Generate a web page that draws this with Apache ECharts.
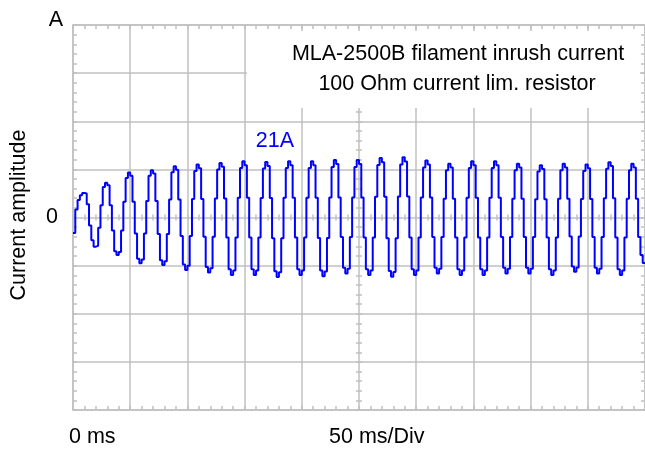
<!DOCTYPE html>
<html>
<head>
<meta charset="utf-8">
<title>MLA-2500B filament inrush current</title>
<script src="https://cdn.jsdelivr.net/npm/echarts@6/dist/echarts.min.js"></script>
<style>
  html, body { margin: 0; padding: 0; background: #fff; }
  #myChart { width: 645px; height: 450px; }
</style>
</head>
<body>
<div id="myChart"></div>
<script>
// scope settings: 10 div x 50 ms, 8 div x 18 A
var timeMin = 0;
var timeMax = 500;
var timeStep = 50;
var ampMin = -72;
var ampMax = 72;
var ampStep = 18;
var sampleMs = 2;

// sampled current (A), one row per 20 ms mains cycle (10 samples)
var currentA = [
  -5.8, 3.0, 6.5, 8.3, 9.2, 9.0, 5.0, -3.0, -8.5, -10.9,
  -10.6, -3.8, 4.6, 11.4, 13.0, 12.1, 4.6, -4.9, -12.6, -14.0,
  -12.9, -4.9, 5.9, 14.8, 16.8, 15.6, 5.9, -6.0, -15.4, -17.1,
  -15.7, -6.0, 6.2, 15.6, 17.7, 16.5, 6.2, -6.2, -16.0, -17.8,
  -16.4, -6.2, 6.7, 16.9, 19.2, 17.9, 6.7, -6.9, -17.6, -19.6,
  -18.0, -6.9, 6.9, 17.4, 19.8, 18.4, 6.9, -7.2, -18.5, -20.6,
  -19.0, -7.2, 7.1, 18.0, 20.4, 19.0, 7.1, -7.5, -19.4, -21.5,
  -19.8, -7.5, 7.4, 18.5, 21.0, 19.5, 7.4, -7.5, -19.4, -21.5,
  -19.8, -7.5, 7.3, 18.3, 20.8, 19.3, 7.3, -7.8, -20.1, -22.3,
  -20.5, -7.8, 7.4, 18.5, 21.0, 19.5, 7.4, -7.5, -19.4, -21.5,
  -19.8, -7.5, 7.4, 18.5, 21.0, 19.5, 7.4, -7.7, -19.8, -22.0,
  -20.2, -7.7, 7.5, 18.9, 21.5, 20.0, 7.5, -7.3, -18.8, -20.9,
  -19.2, -7.3, 7.5, 18.9, 21.5, 20.0, 7.5, -7.5, -19.4, -21.5,
  -19.8, -7.5, 7.8, 19.6, 22.3, 20.7, 7.8, -7.8, -20.0, -22.2,
  -20.4, -7.8, 7.9, 19.8, 22.5, 20.9, 7.9, -7.5, -19.4, -21.5,
  -19.8, -7.5, 7.5, 18.7, 21.3, 19.8, 7.5, -7.3, -18.8, -20.9,
  -19.2, -7.3, 7.0, 17.7, 20.1, 18.7, 7.0, -7.5, -19.4, -21.5,
  -19.8, -7.5, 7.4, 18.5, 21.0, 19.5, 7.4, -7.5, -19.4, -21.5,
  -19.8, -7.5, 7.4, 18.5, 21.0, 19.5, 7.4, -7.3, -18.8, -20.9,
  -19.2, -7.3, 7.0, 17.7, 20.1, 18.7, 7.0, -7.3, -18.8, -20.9,
  -19.2, -7.3, 6.8, 17.2, 19.5, 18.1, 6.8, -7.5, -19.4, -21.5,
  -19.8, -7.5, 7.0, 17.7, 20.1, 18.7, 7.0, -7.1, -18.3, -20.3,
  -18.7, -7.1, 6.9, 17.4, 19.8, 18.4, 6.9, -7.3, -18.8, -20.9,
  -19.2, -7.3, 7.2, 18.2, 20.7, 19.3, 7.2, -7.5, -19.4, -21.5,
  -19.8, -7.5, 7.0, 17.7, 20.1, 18.7, 7.0, -7.3, -14.0, -17.0,
  -17.0
];

// texts
var titleLines = ["MLA-2500B filament inrush current", "100 Ohm current lim. resistor"];
var timeLabels = ["0 ms", "50 ms/Div"];
var ampUnit = "A";
var ampName = "Current amplitude";
var peakNote = "21A";

var gridColor = "#c0c0c0";
var fontFamily = "'Liberation Sans', Arial, sans-serif";
var font = "21.5px " + fontFamily;

// one axis of the scope frame; center axes are pushed inward with a negative offset
function frameAxis(dim, position, offset, inside, tickLen, isMain) {
  var axis = {
    type: "value",
    position: position,
    offset: offset,
    min: dim == "x" ? timeMin : ampMin,
    max: dim == "x" ? timeMax : ampMax,
    interval: dim == "x" ? timeStep : ampStep,
    axisLine: { show: offset == 0, onZero: false, lineStyle: { color: gridColor, width: 1.5 } },
    axisTick: { show: true, inside: inside, length: tickLen, lineStyle: { color: gridColor, width: 1.5 } },
    minorTick: { show: true, splitNumber: 5, length: tickLen, lineStyle: { color: gridColor, width: 1.5 } },
    axisLabel: { show: false },
    splitLine: { show: isMain, lineStyle: { color: gridColor, width: 1.5 } }
  };
  return axis;
}

var yMain = frameAxis("y", "left", 0, true, 4, true);
yMain.axisLabel = {
  show: true,
  margin: 15,
  color: "#000",
  fontSize: 21.5,
  fontFamily: fontFamily,
  formatter: function(v) {
    return v == 0 ? "0" : "";
  }
};

// plain text helper for the graphic layer
function label(text, x, y, align, color) {
  return {
    type: "text",
    z: 51,
    style: {
      text: text, x: x, y: y, font: font, fill: color || "#000",
      align: align, verticalAlign: "middle", textAlign: align, textVerticalAlign: "middle"
    }
  };
}

var nameLabel = label(ampName, 0, 0, "center");
nameLabel.x = 19;
nameLabel.y = 215;
nameLabel.rotation = Math.PI / 2;

var myChart = echarts.init(document.getElementById("myChart"));
myChart.setOption({
  animation: false,
  backgroundColor: "#fff",
  grid: { left: 73, top: 25, width: 572, height: 385 },
  xAxis: [
    frameAxis("x", "bottom", 0, true, 4, true),
    frameAxis("x", "top", 0, true, 4, false),
    frameAxis("x", "bottom", -192.5, false, 3, false),
    frameAxis("x", "bottom", -192.5, true, 3, false)
  ],
  yAxis: [
    yMain,
    frameAxis("y", "right", 0, true, 4, false),
    frameAxis("y", "left", -286, false, 3, false),
    frameAxis("y", "left", -286, true, 3, false)
  ],
  series: [
    {
      name: ampName,
      type: "line",
      xAxisIndex: 0,
      yAxisIndex: 0,
      step: "end",
      symbol: "none",
      z: 5,
      lineStyle: { color: "#0000ff", width: 2 },
      data: currentA.map(function(v, i) {
        return [i * sampleMs, v];
      })
    }
  ],
  graphic: [
    // white box under the caption
    { type: "rect", z: 50, shape: { x: 247, y: 31, width: 393, height: 77 }, style: { fill: "#fff" } },
    label(titleLines[0], 458, 54, "center"),
    label(titleLines[1], 457, 84, "center"),
    label(ampUnit, 56, 20, "center"),
    nameLabel,
    label(timeLabels[0], 69, 437, "left"),
    label(timeLabels[1], 329, 437, "left"),
    label(peakNote, 275, 141, "center", "#0000ff")
  ]
});
</script>
</body>
</html>
